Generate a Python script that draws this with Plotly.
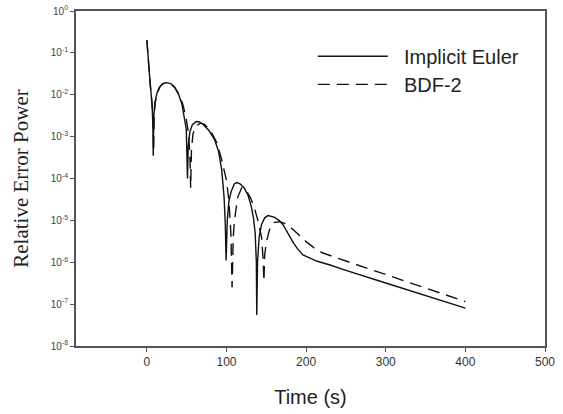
import plotly.graph_objects as go

# Implicit Euler
t_ie = [0, 2, 4, 6.5, 7.5, 8, 8.7, 10, 13, 16, 20, 25, 30, 35, 40, 44, 47, 49.5, 51,
        52, 54, 57, 62, 66, 70, 78, 85, 90, 94, 97, 98.5, 99.5,
        101, 103, 106, 110, 113, 117, 122, 127, 131, 134, 136, 137.5, 138,
        139, 141, 144, 148, 152, 160, 166, 171, 177, 184, 190, 196, 205, 213, 230,
        250, 300, 350, 400]
y_ie = [0.2, 5e-2, 2e-2, 6e-3, 2e-3, 3.5e-4, 3e-3, 6.5e-3, 1.15e-2, 1.55e-2, 1.85e-2,
        1.95e-2, 1.85e-2, 1.5e-2, 1.0e-2, 6e-3, 3e-3, 1.5e-3, 1e-4,
        6e-4, 1.3e-3, 1.9e-3, 2.3e-3, 2.25e-3, 2e-3, 1.4e-3, 8.5e-4, 4.5e-4, 1.6e-4,
        3.5e-5, 8e-6, 1.1e-6,
        1e-5, 2.8e-5, 5e-5, 7.5e-5, 8e-5, 7.5e-5, 6e-5, 4e-5, 2.2e-5, 1.1e-5, 5e-6,
        1e-6, 5.5e-8,
        1e-6, 4e-6, 8e-6, 1.15e-5, 1.3e-5, 1.2e-5, 1e-5, 7.9e-6, 5e-6, 2.9e-6, 2e-6,
        1.5e-6, 1.26e-6, 1.07e-6, 8.6e-7,
        6.4e-7, 3.2e-7, 1.6e-7, 8e-8]

# BDF-2
t_bdf = [0, 2, 4, 6.5, 7.8, 8.5, 9.2, 10.5, 13.5, 16.5, 20.5, 25.5, 30, 35, 40, 45, 49,
         52, 54, 55, 56, 58, 62, 67, 72, 80, 88, 94, 100, 103, 105.5, 107,
         108.5, 110, 114, 119, 124, 130, 135, 140, 144, 146, 147,
         148, 150, 154, 160, 167, 174, 180, 186, 192, 200, 210, 221, 250, 300, 350, 400]
y_bdf = [0.2, 5e-2, 2e-2, 6e-3, 2e-3, 4.5e-4, 3e-3, 6.5e-3, 1.15e-2, 1.55e-2, 1.85e-2,
         1.95e-2, 1.85e-2, 1.5e-2, 1.05e-2, 6e-3, 3e-3, 1.3e-3, 4e-4, 6e-5,
         5e-4, 1.2e-3, 1.8e-3, 2.1e-3, 2e-3, 1.4e-3, 7e-4, 2.8e-4, 9e-5, 3e-5, 5e-6, 2.5e-7,
         4e-6, 1e-5, 3.5e-5, 6e-5, 5.5e-5, 3.5e-5, 2e-5, 9e-6, 4e-6, 1.2e-6, 3.5e-7,
         1.5e-6, 3e-6, 6e-6, 9e-6, 9.3e-6, 8.3e-6, 7e-6, 5.5e-6, 4.1e-6, 3.1e-6, 2.2e-6,
         1.66e-6, 1.07e-6, 5.1e-7, 2.4e-7, 1.15e-7]

x_ticks = [0, 100, 200, 300, 400, 500]
y_ticks = [1e-8, 1e-7, 1e-6, 1e-5, 1e-4, 1e-3, 1e-2, 1e-1, 1]
y_labels = ["10<sup>-8</sup>", "10<sup>-7</sup>", "10<sup>-6</sup>", "10<sup>-5</sup>",
            "10<sup>-4</sup>", "10<sup>-3</sup>", "10<sup>-2</sup>", "10<sup>-1</sup>",
            "10<sup>0</sup>"]

gap = "\u00a0\u00a0"
ie = go.Scatter(x=t_ie, y=y_ie, name=gap + "Implicit Euler", mode="lines", legend="legend",
                line=dict(color="#111111", width=1.4))
bdf = go.Scatter(x=t_bdf, y=y_bdf, name=gap + "BDF-2", mode="lines", legend="legend2",
                 line=dict(color="#111111", width=1.4, dash="12px,7px"))

fig = go.Figure(data=[ie, bdf])

axis_style = dict(showline=True, linecolor="#555555", linewidth=1.8, mirror=True,
                  ticks="outside", ticklen=4, tickcolor="#555555", tickwidth=1.4,
                  showgrid=False, zeroline=False, automargin=False)

fig.update_xaxes(range=[-89, 500], tickvals=x_ticks,
                 tickfont=dict(family="Liberation Sans", size=12, color="#333"),
                 title=dict(text="Time (s)", font=dict(family="Liberation Sans", size=20, color="#222"),
                            standoff=22),
                 **axis_style)
fig.update_yaxes(type="log", range=[-8, 0], tickvals=y_ticks, ticktext=y_labels,
                 tickfont=dict(family="Liberation Sans", size=10, color="#444"),
                 title=dict(text="Relative Error Power",
                            font=dict(family="Liberation Serif", size=21, color="#222"),
                            standoff=16),
                 **axis_style)

leg_font = dict(family="Liberation Sans", size=20, color="#222")
fig.update_layout(
    width=563, height=414,
    margin=dict(l=76, r=18, t=11, b=68),
    plot_bgcolor="white", paper_bgcolor="white",
    showlegend=True,
    legend=dict(x=0.505, y=0.865, xanchor="left", yanchor="middle", font=leg_font,
                itemwidth=70, bgcolor="rgba(0,0,0,0)"),
    legend2=dict(x=0.505, y=0.781, xanchor="left", yanchor="middle", font=leg_font,
                 itemwidth=70, bgcolor="rgba(0,0,0,0)"),
)

# the page body has an 8px default margin; drop it so the figure sits at the origin
fig.write_html("out.html", config={"displayModeBar": False},
               post_script="document.body.style.margin='0px';")
